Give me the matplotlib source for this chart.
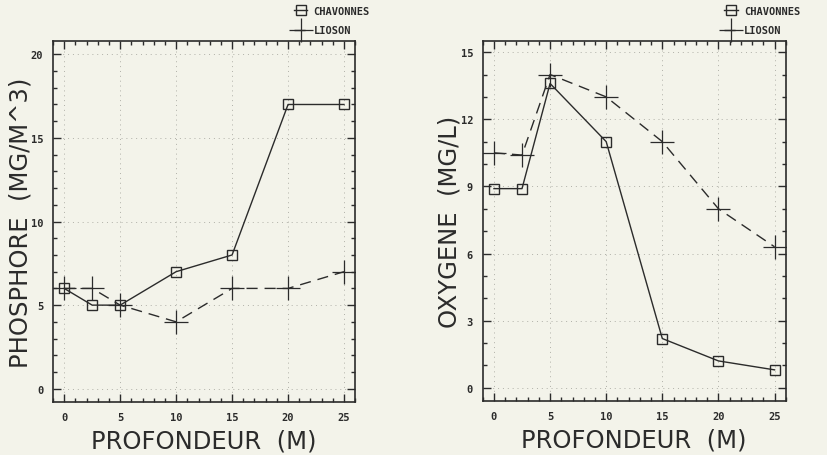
import matplotlib
matplotlib.use('Agg')
import matplotlib.pyplot as plt
from matplotlib.ticker import MultipleLocator

# profondeurs des prelevements (m)
depth = [0, 2.5, 5, 10, 15, 20, 25]

# phosphore (mg/m^3)
phos_chavonnes = [6, 5, 5, 7, 8, 17, 17]
phos_lioson = [6, 6, 5, 4, 6, 6, 7]

# oxygene (mg/l)
oxy_chavonnes = [8.9, 8.9, 13.6, 11.0, 2.2, 1.2, 0.8]
oxy_lioson = [10.5, 10.4, 14.0, 13.0, 11.0, 8.0, 6.3]

x_ticks = [0, 5, 10, 15, 20, 25]
phos_ticks = [0, 5, 10, 15, 20]
oxy_ticks = [0, 3, 6, 9, 12, 15]

BG = '#f3f3ea'
INK = '#2b2b2b'
MONO = 'DejaVu Sans Mono'


def draw_panel(ax, chav, lios, yticks, ylim, ylabel):
    ax.set_facecolor(BG)
    l1, = ax.plot(depth, chav, color=INK, lw=1.0, marker='s', ms=6.5,
                  mfc='none', mec=INK, mew=1.0, label='CHAVONNES')
    l2, = ax.plot(depth, lios, color=INK, lw=1.0, linestyle=(0, (8, 5)),
                  marker='+', ms=17, mew=0.9, label='LIOSON')

    ax.set_xlim(-1, 26)
    ax.set_ylim(*ylim)
    ax.set_xticks(x_ticks)
    ax.set_yticks(yticks)
    ax.xaxis.set_minor_locator(MultipleLocator(1))
    ax.yaxis.set_minor_locator(MultipleLocator(1))
    ax.tick_params(which='both', direction='in', top=True, right=True,
                   color=INK, width=1.0)
    ax.tick_params(which='major', length=6, pad=7, labelsize=7.5,
                   labelcolor=INK)
    ax.tick_params(which='minor', length=3)
    for lab in ax.get_xticklabels() + ax.get_yticklabels():
        lab.set_fontfamily(MONO)
        lab.set_fontweight('bold')
    for sp in ax.spines.values():
        sp.set_color(INK)
        sp.set_linewidth(1.2)

    ax.grid(True, which='major', linestyle=(0, (1, 4)), color='#b0b0a8',
            linewidth=0.7)

    ax.set_xlabel('PROFONDEUR  (M)', fontsize=17.5, color=INK, labelpad=5)
    ax.set_ylabel(ylabel, fontsize=17.5, color=INK, labelpad=-1)

    leg = ax.legend(handles=[l1, l2], loc='center left',
                    bbox_to_anchor=(0.78, 1.056), frameon=False,
                    handlelength=1.3, handletextpad=0.6, borderpad=0,
                    labelspacing=0.9, prop={'family': MONO, 'weight': 'bold',
                                            'size': 7.5})
    for txt in leg.get_texts():
        txt.set_color(INK)


fig = plt.figure(figsize=(8.28, 4.56), dpi=100)
fig.patch.set_facecolor(BG)

ax1 = fig.add_axes([0.064, 0.116, 0.365, 0.792])
ax2 = fig.add_axes([0.583, 0.118, 0.366, 0.790])

draw_panel(ax1, phos_chavonnes, phos_lioson, phos_ticks, (-0.8, 20.8),
           'PHOSPHORE  (MG/M^3)')
draw_panel(ax2, oxy_chavonnes, oxy_lioson, oxy_ticks, (-0.6, 15.5),
           'OXYGENE  (MG/L)')

fig.savefig('out.png', dpi=100, facecolor=BG)
